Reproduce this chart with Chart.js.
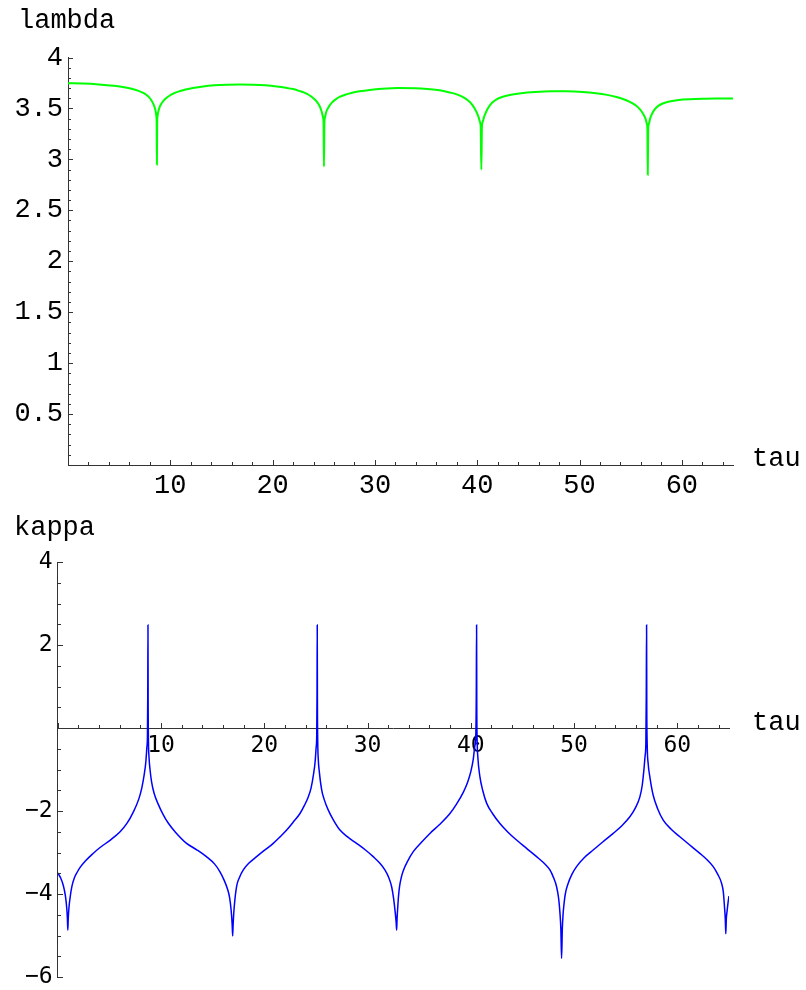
<!DOCTYPE html>
<html><head><meta charset="utf-8">
<script src="https://cdn.jsdelivr.net/npm/chart.js@4.4.1/dist/chart.umd.min.js"></script>
<style>
html,body{margin:0;padding:0;background:#fff;width:806px;height:990px;overflow:hidden;}
#wrap{position:relative;width:806px;height:990px;overflow:hidden;}
canvas{position:absolute;left:0;}
.lbl{position:absolute;font-family:"Liberation Mono","Courier New",monospace;font-size:27px;line-height:27px;color:#000;white-space:nowrap;}
</style></head><body>
<div id="wrap">
<canvas id="c1" width="806" height="500" style="top:0;width:806px;height:500px"></canvas>
<canvas id="c2" width="806" height="520" style="top:500px;width:806px;height:520px"></canvas>
<div class="lbl" style="left:18px;top:8px">lambda</div>
<div class="lbl" style="left:752px;top:446px">tau</div>
<div class="lbl" style="left:14px;top:515px">kappa</div>
<div class="lbl" style="left:752px;top:710px">tau</div>
</div>
<script>
// ---- data ----
const tauLambda = [0,1.5,3,4.5,5.5,6.3,6.9,7.4,7.8,8.05,8.25,8.4,8.5,8.58,8.63,8.665,8.69,8.715,8.75,8.8,8.88,8.98,9.13,9.33,9.58,9.88,10.28,10.78,11.4,12.2,13.2,14.3,15.5,16.8,18.1,19.3,20.4,21.3,22.0,22.6,23.1,23.55,23.9,24.2,24.42,24.6,24.73,24.83,24.92,24.98,25.02,25.06,25.12,25.2,25.3,25.45,25.65,25.9,26.2,26.6,27.1,27.7,28.5,29.5,30.7,32.3,33.9,35.1,36.1,36.9,37.6,38.2,38.7,39.1,39.4,39.65,39.85,40.02,40.15,40.26,40.34,40.4,40.46,40.54,40.65,40.8,40.98,41.2,41.5,41.9,42.5,43.3,44.3,45.6,47.2,48.8,50.3,51.6,52.7,53.6,54.3,54.9,55.35,55.7,56.0,56.25,56.45,56.58,56.63,56.67,56.71,56.78,56.9,57.1,57.35,57.7,58.13,58.8,59.7,60.8,62.0,63.5,65.0];
const lambdaVals = [3.748,3.745,3.736,3.722,3.708,3.690,3.672,3.650,3.622,3.595,3.562,3.530,3.500,3.465,3.43,3.36,2.95,3.36,3.42,3.455,3.49,3.52,3.548,3.575,3.600,3.622,3.645,3.665,3.683,3.700,3.716,3.727,3.733,3.735,3.733,3.727,3.716,3.703,3.690,3.672,3.655,3.632,3.608,3.580,3.552,3.522,3.49,3.455,3.415,3.35,2.93,3.35,3.41,3.45,3.48,3.51,3.54,3.568,3.592,3.615,3.635,3.652,3.668,3.682,3.693,3.700,3.697,3.690,3.680,3.666,3.650,3.630,3.606,3.578,3.55,3.515,3.48,3.445,3.41,3.37,3.32,2.90,3.32,3.37,3.41,3.45,3.49,3.525,3.56,3.59,3.615,3.635,3.650,3.661,3.668,3.668,3.662,3.650,3.633,3.612,3.59,3.565,3.54,3.513,3.48,3.44,3.40,3.35,3.30,2.85,3.30,3.35,3.40,3.45,3.49,3.525,3.548,3.568,3.583,3.591,3.595,3.597,3.598];

const tauKappa = [0,0.3,0.55,0.75,0.88,0.94,0.98,1.02,1.1,1.22,1.37,1.6,1.9,2.17,2.7,3.4,4.1,5.1,6.04,6.7,7.33,7.84,8.14,8.39,8.54,8.64,8.69,8.72,8.74,8.76,8.79,8.84,8.94,9.09,9.34,9.74,10.2,10.7,11.4,12.48,13.5,14.4,15.2,15.7,16.1,16.44,16.64,16.79,16.89,16.94,16.99,17.09,17.32,17.6,17.97,18.5,19.26,20.0,20.87,21.5,22.17,22.8,23.46,23.9,24.26,24.53,24.78,24.93,25.03,25.08,25.11,25.13,25.15,25.18,25.23,25.33,25.56,25.8,26.2,26.7,27.33,28.1,28.94,29.8,30.55,31.2,31.68,32.05,32.33,32.52,32.67,32.77,32.82,32.86,32.93,33.0,33.1,33.25,33.46,33.9,34.43,35.2,36.04,37.0,37.98,38.6,39.27,39.7,40.0,40.24,40.38,40.48,40.53,40.56,40.58,40.62,40.68,40.88,41.15,41.53,42.1,42.82,43.6,44.43,45.4,46.37,47.1,47.66,48.0,48.3,48.5,48.63,48.72,48.79,48.86,48.93,49.0,49.15,49.43,49.8,50.24,51.0,51.85,52.8,53.79,54.6,55.4,55.95,56.37,56.6,56.76,56.88,56.95,56.99,57.02,57.04,57.08,57.17,57.35,57.66,58.1,58.63,59.4,60.24,61.2,62.18,62.9,63.47,63.9,64.28,64.45,64.56,64.64,64.69,64.74,64.82,64.91,65.0];
const kappaVals = [-3.49,-3.62,-3.8,-4.05,-4.35,-4.6,-4.87,-4.6,-4.3,-4.05,-3.82,-3.62,-3.47,-3.36,-3.2,-3.03,-2.88,-2.70,-2.50,-2.3,-2.02,-1.72,-1.45,-1.1,-0.8,-0.45,-0.2,0.8,2.48,0.5,-0.35,-0.7,-1.0,-1.3,-1.58,-1.84,-2.08,-2.29,-2.51,-2.78,-2.94,-3.10,-3.28,-3.46,-3.66,-3.88,-4.08,-4.38,-4.72,-5.01,-4.72,-4.32,-3.82,-3.6,-3.42,-3.26,-3.10,-2.95,-2.78,-2.63,-2.46,-2.27,-2.06,-1.86,-1.66,-1.45,-1.1,-0.8,-0.45,-0.2,0.8,2.48,0.5,-0.35,-0.75,-1.05,-1.49,-1.72,-1.98,-2.22,-2.46,-2.63,-2.78,-2.94,-3.10,-3.26,-3.42,-3.6,-3.82,-4.1,-4.42,-4.68,-4.87,-4.6,-4.3,-4.05,-3.82,-3.62,-3.44,-3.2,-2.98,-2.76,-2.54,-2.32,-2.06,-1.84,-1.55,-1.3,-1.05,-0.75,-0.45,-0.2,0.8,2.48,0.5,-0.35,-0.7,-1.17,-1.5,-1.81,-2.06,-2.30,-2.51,-2.70,-2.9,-3.10,-3.26,-3.42,-3.6,-3.82,-4.1,-4.45,-4.85,-5.55,-4.85,-4.5,-4.3,-4.0,-3.74,-3.52,-3.34,-3.12,-2.94,-2.74,-2.54,-2.36,-2.14,-1.92,-1.66,-1.38,-1.01,-0.66,-0.37,0.8,2.48,0.5,-0.4,-0.85,-1.2,-1.62,-1.95,-2.22,-2.44,-2.62,-2.82,-3.02,-3.18,-3.34,-3.52,-3.74,-3.95,-4.3,-4.6,-4.96,-4.6,-4.4,-4.2,-4.05];

const tauTicks = [10,20,30,40,50,60];
const lambdaTicks = [0.5,1,1.5,2,2.5,3,3.5,4];
const kappaTicks = [-6,-4,-2,2,4];

// ---- inward tick marks drawn through the chart's own scales ----
const inTicks = {
  id: 'inTicks',
  afterDatasetsDraw(chart, args, o) {
    const ctx = chart.ctx, xs = chart.scales.x, ys = chart.scales.y;
    const yAxisPx = Math.round(ys.getPixelForValue(o.xAxisAt));
    const xAxisPx = Math.round(chart.chartArea.left);
    ctx.save();
    ctx.strokeStyle = '#333'; ctx.lineWidth = 1;
    ctx.beginPath();
    const isMul = (v, m) => Math.abs(v / m - Math.round(v / m)) < 1e-6;
    const nx = Math.floor((xs.max - xs.min) / o.xMinor + 1e-6);
    for (let i = 0; i <= nx; i++) {
      const v = xs.min + i * o.xMinor;
      const len = isMul(v, o.xMajor) ? 5 : 3;
      const px = Math.round(xs.getPixelForValue(v)) + 0.5;
      ctx.moveTo(px, yAxisPx); ctx.lineTo(px, yAxisPx - len);
    }
    const ny = Math.floor((ys.max - ys.min) / o.yMinor + 1e-6);
    for (let i = 0; i <= ny; i++) {
      const v = ys.min + i * o.yMinor;
      const len = isMul(v, o.yMajor) ? 5 : 3;
      const py = Math.round(ys.getPixelForValue(v)) + 0.5;
      ctx.moveTo(xAxisPx, py); ctx.lineTo(xAxisPx + len, py);
    }
    ctx.stroke();
    ctx.restore();
  }
};

const zip = (xs, ys) => xs.map((x, i) => ({x, y: ys[i]}));
const setTicks = arr => s => { s.ticks = arr.map(v => ({value: v})); };
const fmt = v => (v < 0 ? '\u2212' + String(Math.abs(v)) : String(v));

new Chart(document.getElementById('c1'), {
  type: 'scatter',
  data: { datasets: [{ data: zip(tauLambda, lambdaVals), showLine: true, borderColor: '#00ff00', borderWidth: 2, pointRadius: 0, fill: false, cubicInterpolationMode: 'monotone' }] },
  options: {
    responsive: false, animation: false, devicePixelRatio: 1,
    layout: { padding: { top: 57.5, right: 73, left: 0, bottom: 0 } },
    plugins: { legend: { display: false }, tooltip: { enabled: false },
      inTicks: { xAxisAt: 0, xMinor: 2, xMajor: 10, yMinor: 0.1, yMajor: 0.5 } },
    scales: {
      x: { type: 'linear', min: 0, max: 65, position: 'bottom',
        grid: { display: false, drawTicks: false }, border: { display: true, color: '#333', width: 1 },
        ticks: { color: '#000', font: { family: 'Liberation Mono', size: 27, lineHeight: 1 }, padding: 7, maxRotation: 0, autoSkip: false, callback: fmt },
        afterBuildTicks: setTicks(tauTicks), afterFit: s => { s.height = 35; } },
      y: { type: 'linear', min: 0, max: 4, position: 'left',
        grid: { display: false, drawTicks: false }, border: { display: true, color: '#333', width: 1 },
        ticks: { color: '#000', font: { family: 'Liberation Mono', size: 27, lineHeight: 1 }, padding: 5, autoSkip: false, callback: fmt },
        afterBuildTicks: setTicks(lambdaTicks), afterFit: s => { s.width = 68; } }
    }
  },
  plugins: [inTicks]
});

new Chart(document.getElementById('c2'), {
  type: 'scatter',
  data: { datasets: [{ data: zip(tauKappa, kappaVals), showLine: true, borderColor: '#0000ff', borderWidth: 1.5, pointRadius: 0, fill: false, cubicInterpolationMode: 'monotone' }] },
  options: {
    responsive: false, animation: false, devicePixelRatio: 1,
    layout: { padding: { top: 62, right: 77, left: 0, bottom: 43 } },
    plugins: { legend: { display: false }, tooltip: { enabled: false },
      inTicks: { xAxisAt: 0, xMinor: 2, xMajor: 10, yMinor: 0.5, yMajor: 2 } },
    scales: {
      x: { type: 'linear', min: 0, max: 65, position: { y: 0 },
        grid: { display: false, drawTicks: false }, border: { display: true, color: '#333', width: 1 },
        ticks: { color: '#000', font: { family: 'DejaVu Sans Mono', size: 23, lineHeight: 1 }, padding: 7, maxRotation: 0, autoSkip: false, callback: fmt },
        afterBuildTicks: setTicks(tauTicks) },
      y: { type: 'linear', min: -6, max: 4, position: 'left',
        grid: { display: false, drawTicks: false }, border: { display: true, color: '#333', width: 1 },
        ticks: { color: '#000', font: { family: 'DejaVu Sans Mono', size: 23, lineHeight: 1 }, padding: 5, autoSkip: false, callback: fmt },
        afterBuildTicks: setTicks(kappaTicks), afterFit: s => { s.width = 57.7; } }
    }
  },
  plugins: [inTicks]
});
</script>
</body></html>
